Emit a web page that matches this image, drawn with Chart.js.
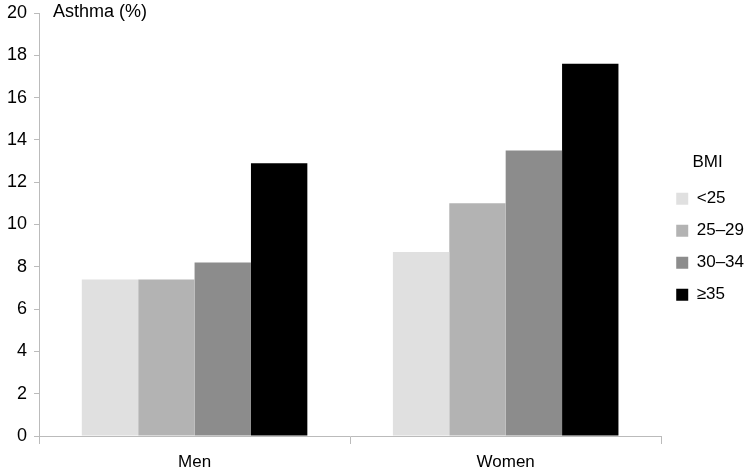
<!DOCTYPE html>
<html>
<head>
<meta charset="utf-8">
<script src="https://cdn.jsdelivr.net/npm/chart.js@4"></script>
<style>
  html, body { margin: 0; padding: 0; background: #fff; }
  #wrap { width: 746px; height: 472px; }
</style>
</head>
<body>
<div id="wrap"><canvas id="chart" width="746" height="472"></canvas></div>
<script>
  // Categorias y series
  const grupos = ["Men", "Women"];
  const bmiLabels = ["<25", "25\u201329", "30\u201334", "\u226535"];
  const bmiMenos25 = [7.4, 8.7];
  const bmi25a29 = [7.4, 11.0];
  const bmi30a34 = [8.2, 13.5];
  const bmi35mas = [12.9, 17.6];
  const yTicks = [0, 2, 4, 6, 8, 10, 12, 14, 16, 18, 20];

  const colores = ["#e0e0e0", "#b3b3b3", "#8c8c8c", "#000000"];
  const series = [bmiMenos25, bmi25a29, bmi30a34, bmi35mas];
  const fuente = "'Liberation Sans', Arial, Helvetica, sans-serif";

  // Titulo del eje Y dibujado arriba
  const tituloEje = {
    id: "tituloEje",
    afterDraw(chart) {
      const ctx = chart.ctx;
      ctx.save();
      ctx.font = "18px " + fuente;
      ctx.fillStyle = "#000";
      ctx.textBaseline = "middle";
      ctx.fillText("Asthma (%)", chart.chartArea.left + 14, 12);
      ctx.restore();
    }
  };

  new Chart(document.getElementById("chart"), {
    type: "bar",
    data: {
      labels: grupos,
      datasets: series.map((d, i) => ({
        label: bmiLabels[i],
        data: d,
        backgroundColor: colores[i],
        borderWidth: 0
      }))
    },
    options: {
      responsive: false,
      animation: false,
      layout: { padding: { top: 0, right: -8, left: 0, bottom: 0 } },
      datasets: { bar: { categoryPercentage: 0.725, barPercentage: 1.0 } },
      scales: {
        x: {
          offset: true,
          afterFit(scale) { scale.height = 36; },
          grid: { offset: true, drawOnChartArea: false, tickLength: 8, color: "#bbbbbb" },
          border: { color: "#bbbbbb" },
          ticks: { color: "#000", font: { family: fuente, size: 17 }, padding: 8 }
        },
        y: {
          min: 0,
          max: 20,
          afterBuildTicks(axis) { axis.ticks = yTicks.map(v => ({ value: v })); },
          afterFit(scale) { scale.paddingTop = 13; scale.paddingBottom = 0; },
          grid: { drawOnChartArea: false, tickLength: 5, color: "#bbbbbb" },
          border: { color: "#bbbbbb" },
          ticks: { color: "#000", font: { family: fuente, size: 18 }, padding: 7 }
        }
      },
      plugins: {
        legend: {
          position: "right",
          align: "center",
          title: { display: true, text: "BMI", color: "#000", font: { family: fuente, size: 17 }, padding: { top: 0, bottom: 1 } },
          labels: {
            color: "#000",
            boxWidth: 12,
            boxHeight: 12,
            padding: 15,
            font: { family: fuente, size: 17 }
          }
        },
        tooltip: { enabled: false }
      }
    },
    plugins: [tituloEje]
  });
</script>
</body>
</html>
